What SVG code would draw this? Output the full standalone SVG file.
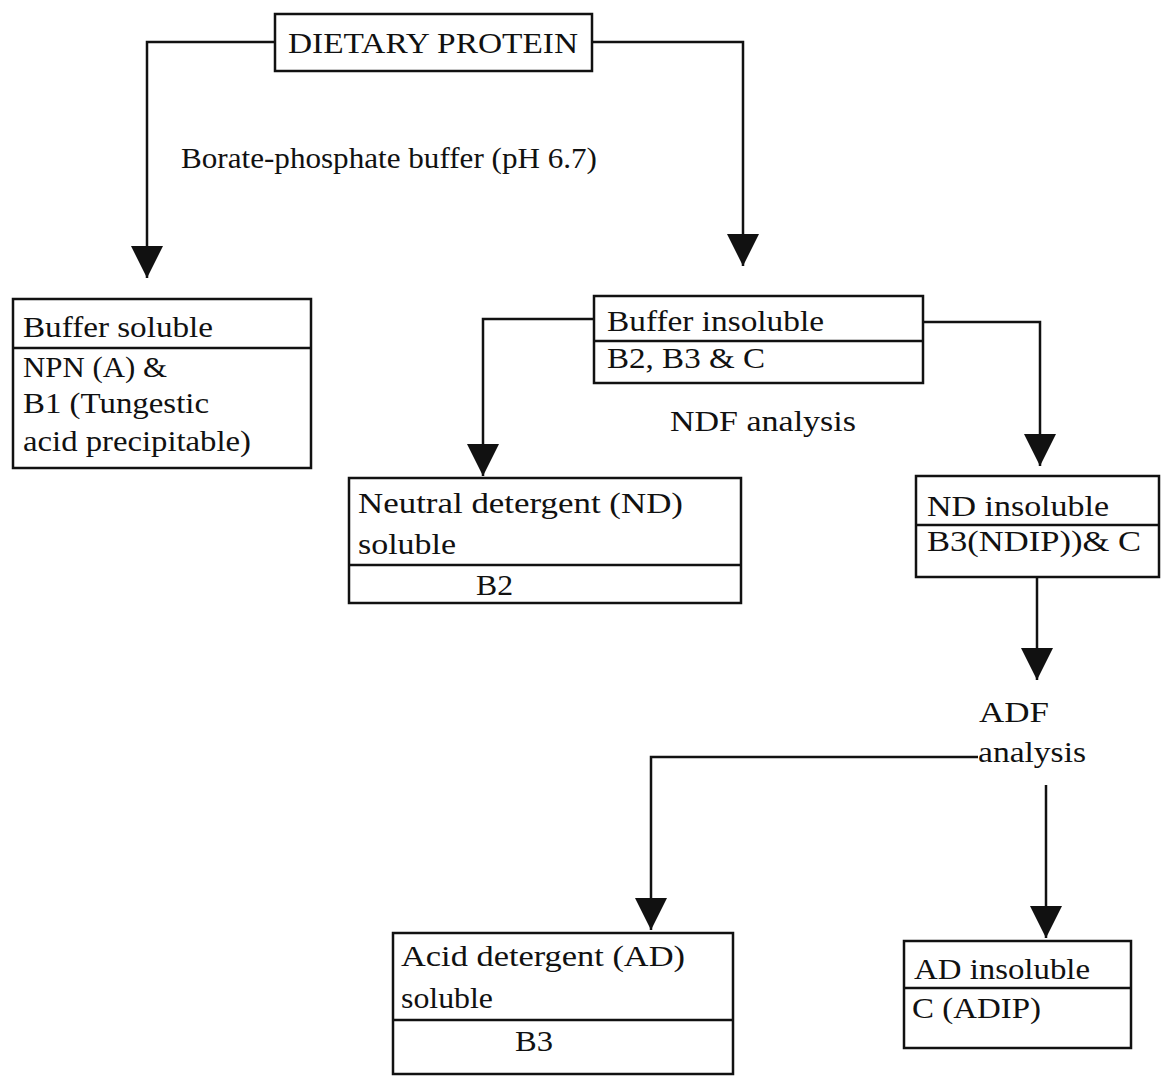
<svg xmlns="http://www.w3.org/2000/svg" width="1163" height="1076" viewBox="0 0 1163 1076">
<style>
.box{fill:none;stroke:#111;stroke-width:2.5}
.div{stroke:#111;stroke-width:2.5}
.t{font-family:"Liberation Serif","Times New Roman",serif;font-size:30px;fill:#111}
.c{fill:none;stroke:#111;stroke-width:2.5}
</style>
<defs>
<marker id="ah" markerUnits="userSpaceOnUse" markerWidth="34" markerHeight="34" refX="32" refY="16" orient="auto" viewBox="0 0 34 34">
<path d="M0,0 L32,16 L0,32 z" fill="#111"/>
</marker>
</defs>
<rect width="1163" height="1076" fill="#fff"/>
<g id="connectors">
<polyline class="c" points="275,42 147,42 147,278" marker-end="url(#ah)"/>
<polyline class="c" points="592,42 743,42 743,266" marker-end="url(#ah)"/>
<polyline class="c" points="594,319 483,319 483,476" marker-end="url(#ah)"/>
<polyline class="c" points="923,322 1040,322 1040,466" marker-end="url(#ah)"/>
<polyline class="c" points="1037,577 1037,680" marker-end="url(#ah)"/>
<polyline class="c" points="978,757 651,757 651,930" marker-end="url(#ah)"/>
<polyline class="c" points="1046,785 1046,938" marker-end="url(#ah)"/>
</g>
<g id="dietary-protein">
<rect class="box" x="275" y="14" width="317" height="57"/>
<text class="t" x="288" y="53" textLength="290" lengthAdjust="spacingAndGlyphs">DIETARY PROTEIN</text>
</g>
<g id="label-borate">
<text class="t" x="181" y="168" textLength="416" lengthAdjust="spacingAndGlyphs">Borate-phosphate buffer (pH 6.7)</text>
</g>
<g id="buffer-soluble">
<rect class="box" x="13" y="299" width="298" height="169"/>
<line class="div" x1="13" y1="348" x2="311" y2="348"/>
<text class="t" x="23" y="337" textLength="190" lengthAdjust="spacingAndGlyphs">Buffer soluble</text>
<text class="t" x="23" y="377" textLength="144" lengthAdjust="spacingAndGlyphs">NPN (A) &amp;</text>
<text class="t" x="23" y="413" textLength="186" lengthAdjust="spacingAndGlyphs">B1 (Tungestic</text>
<text class="t" x="23" y="451" textLength="228" lengthAdjust="spacingAndGlyphs">acid precipitable)</text>
</g>
<g id="buffer-insoluble">
<rect class="box" x="594" y="296" width="329" height="87"/>
<line class="div" x1="594" y1="341" x2="923" y2="341"/>
<text class="t" x="607" y="331" textLength="217" lengthAdjust="spacingAndGlyphs">Buffer insoluble</text>
<text class="t" x="607" y="368" textLength="158" lengthAdjust="spacingAndGlyphs">B2, B3 &amp; C</text>
</g>
<g id="label-ndf">
<text class="t" x="670" y="431" textLength="186" lengthAdjust="spacingAndGlyphs">NDF analysis</text>
</g>
<g id="nd-soluble">
<rect class="box" x="349" y="478" width="392" height="125"/>
<line class="div" x1="349" y1="565" x2="741" y2="565"/>
<text class="t" x="358" y="513" textLength="325" lengthAdjust="spacingAndGlyphs">Neutral detergent (ND)</text>
<text class="t" x="358" y="554" textLength="98" lengthAdjust="spacingAndGlyphs">soluble</text>
<text class="t" x="476" y="595" textLength="37" lengthAdjust="spacingAndGlyphs">B2</text>
</g>
<g id="nd-insoluble">
<rect class="box" x="916" y="476" width="243" height="101"/>
<line class="div" x1="916" y1="525" x2="1159" y2="525"/>
<text class="t" x="927" y="516" textLength="182" lengthAdjust="spacingAndGlyphs">ND insoluble</text>
<text class="t" x="927" y="551" textLength="214" lengthAdjust="spacingAndGlyphs">B3(NDIP))&amp; C</text>
</g>
<g id="label-adf">
<text class="t" x="979" y="722" textLength="70" lengthAdjust="spacingAndGlyphs">ADF</text>
<text class="t" x="978" y="762" textLength="108" lengthAdjust="spacingAndGlyphs">analysis</text>
</g>
<g id="ad-soluble">
<rect class="box" x="393" y="933" width="340" height="141"/>
<line class="div" x1="393" y1="1020" x2="733" y2="1020"/>
<text class="t" x="401" y="966" textLength="284" lengthAdjust="spacingAndGlyphs">Acid detergent (AD)</text>
<text class="t" x="401" y="1008" textLength="92" lengthAdjust="spacingAndGlyphs">soluble</text>
<text class="t" x="515" y="1051" textLength="38" lengthAdjust="spacingAndGlyphs">B3</text>
</g>
<g id="ad-insoluble">
<rect class="box" x="904" y="941" width="227" height="107"/>
<line class="div" x1="904" y1="988" x2="1131" y2="988"/>
<text class="t" x="914" y="979" textLength="176" lengthAdjust="spacingAndGlyphs">AD insoluble</text>
<text class="t" x="912" y="1018" textLength="129" lengthAdjust="spacingAndGlyphs">C (ADIP)</text>
</g>
</svg>
